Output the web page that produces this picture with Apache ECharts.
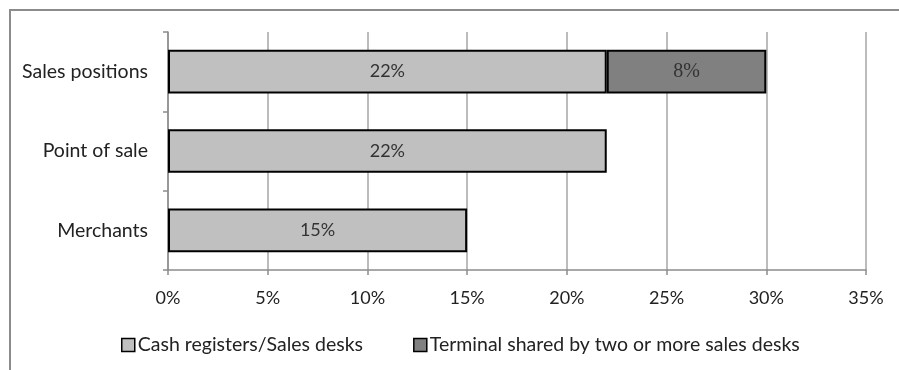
<!DOCTYPE html>
<html>
<head>
<meta charset="utf-8">
<script src="https://cdn.jsdelivr.net/npm/echarts@6/dist/echarts.min.js"></script>
<style>
html,body{margin:0;padding:0;background:#fff;}
#frame{position:absolute;left:9px;top:9px;width:900px;height:400px;border-left:2px solid #8c8c8c;border-top:2px solid #8c8c8c;}
#chart{position:absolute;left:0;top:0;width:899px;height:370px;}
</style>
</head>
<body>
<div id="frame"></div>
<div id="chart"></div>
<script>
var categories = ['Merchants', 'Point of sale', 'Sales positions'];
var seriesNames = ['Cash registers/Sales desks', 'Terminal shared by two or more sales desks'];
var cashRegisters = [15, 22, 22];
var sharedTerminal = [null, null, 8];
var xTicks = [0, 5, 10, 15, 20, 25, 30, 35];

var font = 'Lato, sans-serif';
var chart = echarts.init(document.getElementById('chart'), null, {renderer: 'canvas'});
chart.setOption({
  backgroundColor: 'transparent',
  animation: false,
  grid: {left: 168, right: 33, top: 32, bottom: 100, containLabel: false},
  legend: {
    top: 330, left: 116,
    itemWidth: 13, itemHeight: 13, itemGap: 50,
    icon: 'rect',
    textStyle: {fontFamily: font, fontSize: 19.5, color: '#222', padding: [0, 0, 0, -2]},
    data: seriesNames.map(function (n) { return {name: n, itemStyle: {borderColor: '#000', borderWidth: 1.5}}; })
  },
  xAxis: {
    type: 'value', min: xTicks[0], max: xTicks[xTicks.length - 1], interval: 5,
    axisLine: {show: true, lineStyle: {color: '#8c8c8c', width: 1.5}},
    axisTick: {show: true, length: 5, lineStyle: {color: '#8c8c8c', width: 1.5}},
    splitLine: {show: true, lineStyle: {color: '#a6a6a6', width: 1.5}},
    axisLabel: {formatter: '{value}%', fontFamily: font, fontSize: 18, color: '#222', margin: 19}
  },
  yAxis: {
    type: 'category', data: categories,
    axisLine: {show: true, lineStyle: {color: '#8c8c8c', width: 1.5}},
    axisTick: {show: true, length: 5, lineStyle: {color: '#8c8c8c', width: 1.5}},
    axisLabel: {fontFamily: font, fontSize: 19.5, color: '#222', margin: 20}
  },
  series: [
    {
      name: seriesNames[0], type: 'bar', stack: 'a', data: cashRegisters,
      barWidth: '55%',
      itemStyle: {color: '#c0c0c0', borderColor: '#000', borderWidth: 2},
      label: {show: true, position: 'inside', formatter: '{c}%', fontFamily: font, fontSize: 18, color: '#333'}
    },
    {
      name: seriesNames[1], type: 'bar', stack: 'a', data: sharedTerminal,
      barWidth: '55%',
      itemStyle: {color: '#808080', borderColor: '#000', borderWidth: 2},
      label: {show: true, position: 'inside', formatter: '{c}%', fontFamily: '"Liberation Serif", serif', fontSize: 20, color: '#333'}
    }
  ]
});
</script>
</body>
</html>
